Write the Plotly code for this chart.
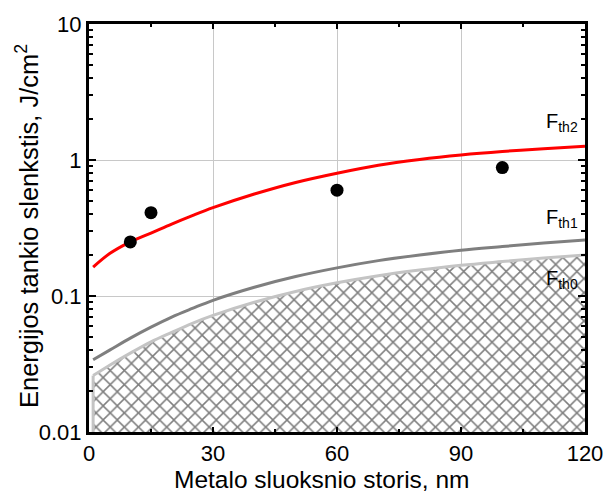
import plotly.graph_objects as go

# Threshold fluence curves vs. metal layer thickness (nm)
thickness = [1, 5, 10, 15, 20, 25, 30, 40, 50, 60, 70, 80, 90, 100, 110, 120]
f_th2 = [0.163, 0.205, 0.25, 0.29, 0.338, 0.39, 0.446, 0.562, 0.684, 0.80, 0.916, 1.01, 1.09, 1.156, 1.21, 1.26]
f_th1 = [0.034, 0.040, 0.049, 0.059, 0.070, 0.081, 0.093, 0.116, 0.139, 0.161, 0.182, 0.200, 0.217, 0.231, 0.245, 0.258]
f_th0 = [0.026, 0.031, 0.038, 0.046, 0.054, 0.063, 0.072, 0.090, 0.108, 0.125, 0.141, 0.155, 0.168, 0.179, 0.190, 0.200]

# Measured thresholds
meas_x = [10, 15, 60, 100]
meas_y = [0.25, 0.41, 0.60, 0.88]

y_floor = 0.01
x_ticks = [0, 30, 60, 90, 120]
y_ticks = [0.01, 0.1, 1, 10]
y_tick_text = ["0.01", "0.1", "1", "10"]
y_minor = [m * d for d in (0.01, 0.1, 1) for m in range(2, 10)]

# Curve labels: text and log10 of the label's vertical position
curve_labels = [("F<sub>th2</sub>", 0.275), ("F<sub>th1</sub>", -0.43), ("F<sub>th0</sub>", -0.875)]

FONT = "Liberation Sans, Arial, sans-serif"

fig = go.Figure()

# Hatched region below F_th0
fig.add_trace(go.Scatter(
    x=thickness, y=[y_floor] * len(thickness), mode="lines",
    line=dict(width=0), hoverinfo="skip",
))
fig.add_trace(go.Scatter(
    x=thickness, y=f_th0, mode="lines",
    fill="tonexty",
    fillcolor="white",
    fillpattern=dict(shape="x", size=10, solidity=0.28,
                     fgcolor="black", bgcolor="white"),
    line=dict(color="#c4c4c4", width=3, shape="spline"),
    hoverinfo="skip",
))
fig.add_trace(go.Scatter(
    x=[thickness[0], thickness[0]], y=[y_floor, f_th0[0]], mode="lines",
    line=dict(color="#c4c4c4", width=3), hoverinfo="skip",
))

fig.add_trace(go.Scatter(x=thickness, y=f_th1, mode="lines",
                         line=dict(color="#7f7f7f", width=3, shape="spline")))
fig.add_trace(go.Scatter(x=thickness, y=f_th2, mode="lines",
                         line=dict(color="#ff0000", width=3, shape="spline")))
fig.add_trace(go.Scatter(x=meas_x, y=meas_y, mode="markers",
                         marker=dict(color="black", size=13)))

for text, ylog in curve_labels:
    fig.add_annotation(
        x=110.2, y=ylog, xref="x", yref="y", yanchor="middle", xanchor="left",
        text=text, showarrow=False,
        font=dict(family=FONT, size=20, color="black"),
    )

# Axis titles
fig.add_annotation(
    x=0.5, y=0, xref="paper", yref="paper", xanchor="center", yanchor="middle",
    xshift=-16, yshift=-47, showarrow=False,
    text="Metalo sluoksnio storis, nm",
    font=dict(family=FONT, size=24.5, color="black"),
)
fig.add_annotation(
    x=0, y=0.5, xref="paper", yref="paper", xanchor="center", yanchor="middle",
    xshift=-62, yshift=2, textangle=-90, showarrow=False,
    text="Energijos tankio slenkstis, J/cm<sup>2</sup>",
    font=dict(family=FONT, size=25.5, color="black"),
)

axis_common = dict(
    showline=True, linecolor="black", linewidth=3, mirror="ticks",
    ticks="inside", tickcolor="black", tickwidth=2,
    showgrid=True, gridcolor="#c8c8c8", gridwidth=1,
    zeroline=False, automargin=False,
    tickfont=dict(family=FONT, size=22, color="black"),
)

fig.update_xaxes(
    range=[0, 120], tickvals=x_ticks, ticklen=5,
    minor=dict(dtick=15, tick0=0, ticks="inside", ticklen=3,
               tickcolor="black", tickwidth=2, showgrid=False),
    **axis_common,
)
fig.update_yaxes(
    type="log", range=[-2, 1], tickvals=y_ticks, ticktext=y_tick_text, ticklen=7,
    minor=dict(tickvals=y_minor, ticks="inside", ticklen=4,
               tickcolor="black", tickwidth=2, showgrid=False),
    **axis_common,
)

fig.update_layout(
    width=606, height=495,
    margin=dict(l=89, r=21, t=24, b=63),
    paper_bgcolor="white", plot_bgcolor="white",
    showlegend=False,
    font=dict(family=FONT, color="black"),
)

fig.write_html("out.html")
